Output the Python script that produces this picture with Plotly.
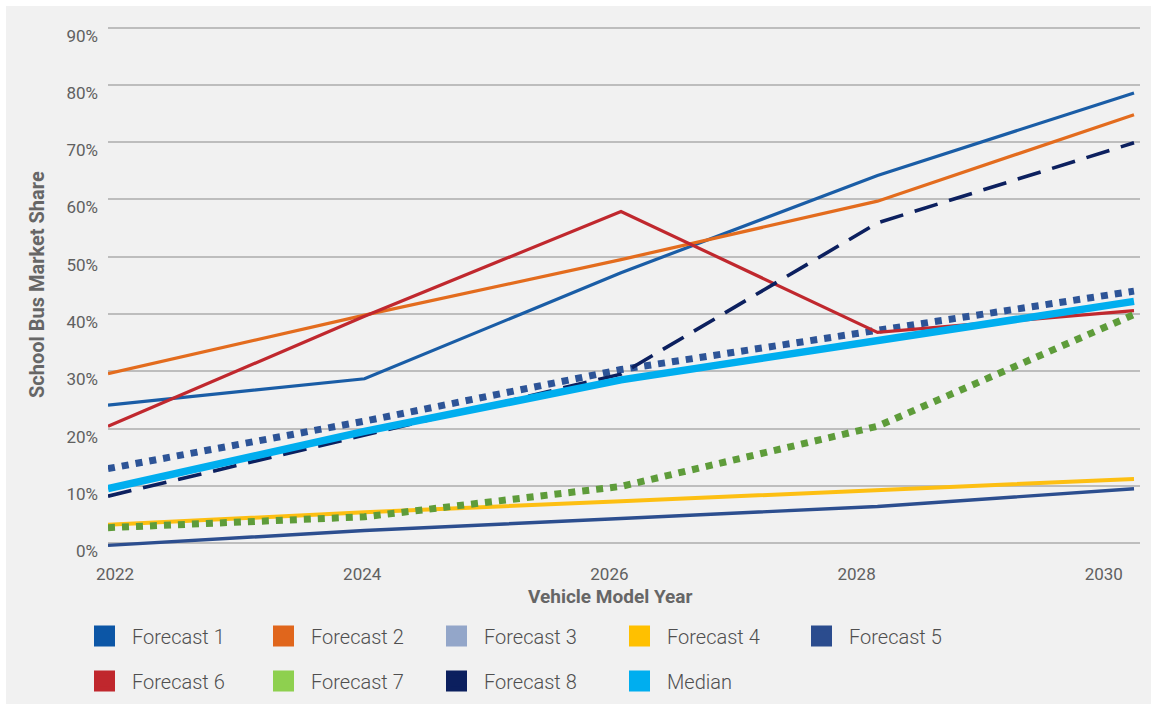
import plotly.graph_objects as go

# ---- data -------------------------------------------------------------
years = [2022, 2024, 2026, 2028, 2030]
year_labels = ["2022", "2024", "2026", "2028", "2030"]
pct_ticks = [0, 10, 20, 30, 40, 50, 60, 70, 80, 90]
pct_labels = ["0%", "10%", "20%", "30%", "40%", "50%", "60%", "70%", "80%", "90%"]

forecast_1 = [24.1, 28.7, 47.2, 64.2, 78.6]
forecast_2 = [29.6, 39.8, 49.5, 59.7, 74.8]
forecast_3 = [13.0, 21.3, 30.3, 37.0, 44.0]
forecast_4 = [3.2, 5.4, 7.3, 9.3, 11.2]
forecast_5 = [-0.4, 2.2, 4.3, 6.4, 9.5]
forecast_6 = [20.4, 39.6, 57.9, 36.8, 40.6]
forecast_7 = [2.7, 4.6, 9.9, 20.4, 39.9]
forecast_8 = [8.2, 18.8, 29.5, 55.9, 69.9]
median = [9.5, 19.5, 28.5, 35.5, 42.2]

# ---- styling ----------------------------------------------------------
series = [
    # name, values, line colour, legend colour, width, dash
    ("Forecast 1", forecast_1, "#1a5da6", "#0c56a6", 3.2, "solid"),
    ("Forecast 2", forecast_2, "#e36c1e", "#e0661c", 3.2, "solid"),
    ("Forecast 3", forecast_3, "#2d5497", "#93a6c9", 7, "7px,7px"),
    ("Forecast 4", forecast_4, "#fdbf12", "#ffc000", 4, "solid"),
    ("Forecast 5", forecast_5, "#2c4e8f", "#2b4c8e", 3.4, "solid"),
    ("Forecast 6", forecast_6, "#c0282e", "#c0272d", 3.2, "solid"),
    ("Forecast 7", forecast_7, "#5e9c3a", "#8ed04f", 7, "7px,7px"),
    ("Forecast 8", forecast_8, "#0c205f", "#0b1f5e", 3.6, "24px,12px"),
    ("Median", median, "#00aeef", "#00aeef", 7.5, "solid"),
]

W, H = 1151, 710
ML, MR, MT, MB = 108, 11, 25, 160
PW, PH = W - ML - MR, H - MT - MB
PX_PER_YEAR = 128.25
PX_PER_PCT = 5.728
Y0 = -1.2

def px_x(px):
    return (px - ML) / PW

def px_y(py):
    return (H - MB - py) / PH

FONT = "Roboto"
TICK_COLOR = "#606060"
ITEM_W = 45

fig = go.Figure()

for name, vals, color, _, width, dash in series:
    fig.add_trace(go.Scatter(
        x=years, y=vals, mode="lines", name=name, showlegend=False,
        line=dict(color=color, width=width, dash=dash),
        hoverinfo="x+y+name",
    ))

# legend grid: each entry gets its own small legend box (column x, row y)
col_x = [104.5, 283.5, 456.5, 639.5, 821.5]
row_y = [636, 681]
grid = [
    ["Forecast 1", "Forecast 2", "Forecast 3", "Forecast 4", "Forecast 5"],
    ["Forecast 6", "Forecast 7", "Forecast 8", "Median"],
]
legend_color = {s[0]: s[3] for s in series}
legend_layout = {}
n = 0
for r, row in enumerate(grid):
    for c, name in enumerate(row):
        n += 1
        key = "legend" if n == 1 else f"legend{n}"
        col = legend_color[name]
        fig.add_trace(go.Scatter(
            x=[None], y=[None], mode="markers", name=name,
            legend=key, showlegend=True,
            marker=dict(symbol="square", size=16, color=col,
                        line=dict(color=col, width=5)),
        ))
        legend_layout[key] = dict(
            x=px_x(col_x[c] - 5 - ITEM_W / 2), y=px_y(row_y[r]),
            xanchor="left", yanchor="middle",
            orientation="v", bgcolor="rgba(0,0,0,0)", borderwidth=0,
            font=dict(family=FONT, size=20, color="#4f4f4f", weight=300),
            itemwidth=ITEM_W,
        )

x_tick_pos = [2022 + (7 + (yr - 2022) * 123.6) / PX_PER_YEAR for yr in years]

fig.update_layout(
    width=W, height=H,
    margin=dict(l=ML, r=MR, t=MT, b=MB, pad=0, autoexpand=False),
    paper_bgcolor="white",
    plot_bgcolor="rgba(0,0,0,0)",
    showlegend=True,
    font=dict(family=FONT, color=TICK_COLOR),
    xaxis=dict(
        range=[2022, 2022 + PW / PX_PER_YEAR],
        tickmode="array", tickvals=x_tick_pos, ticktext=year_labels,
        showgrid=False, zeroline=False, showline=False, ticks="",
        tickfont=dict(family=FONT, size=17, color=TICK_COLOR),
        ticklabelstandoff=12, automargin=False,
    ),
    yaxis=dict(
        range=[Y0, Y0 + PH / PX_PER_PCT],
        tickmode="array", tickvals=pct_ticks, ticktext=pct_labels,
        showgrid=True, gridcolor="#bdbdbd", gridwidth=1.5,
        zeroline=False, showline=False, ticks="",
        tickfont=dict(family=FONT, size=17, color=TICK_COLOR),
        ticklabelshift=8, ticklabelstandoff=9, automargin=False,
    ),
    shapes=[dict(
        type="rect", xref="paper", yref="paper", layer="below",
        x0=px_x(6), x1=px_x(W), y0=px_y(704), y1=px_y(6),
        fillcolor="#f1f1f1", line=dict(width=0),
    )],
    annotations=[
        dict(text="<b>Vehicle Model Year</b>", xref="paper", yref="paper",
             x=px_x(610), y=px_y(596), xanchor="center", yanchor="middle",
             showarrow=False, font=dict(family=FONT, size=19, color="#666666")),
        dict(text="<b>School Bus Market Share</b>", xref="paper", yref="paper",
             x=px_x(37), y=px_y(285), xanchor="center", yanchor="middle",
             textangle=-90, showarrow=False,
             font=dict(family=FONT, size=20, color="#666666")),
    ],
    **legend_layout,
)

fig.write_html("out.html")
